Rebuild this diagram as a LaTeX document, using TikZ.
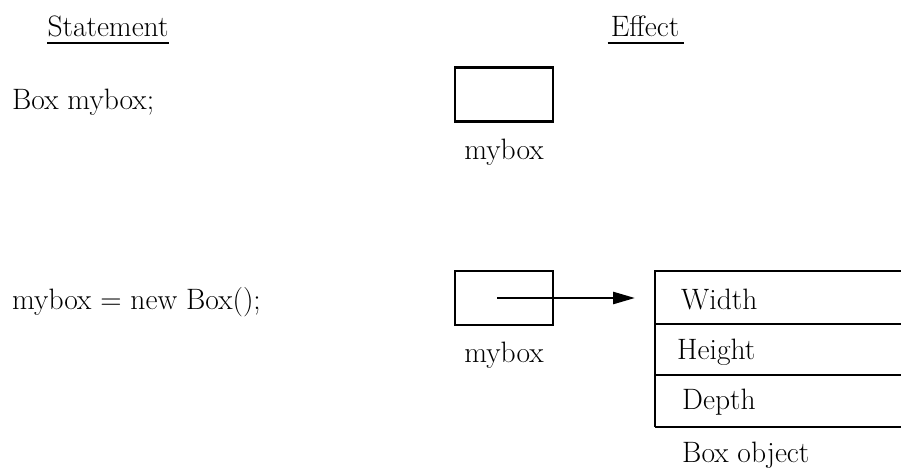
\documentclass[tikz,border=0pt]{standalone}
\usetikzlibrary{arrows.meta}
\begin{document}
\begin{tikzpicture}[x=1pt,y=-1pt,
  lbl/.style={inner sep=0pt,font=\fontsize{29.5}{34}\selectfont},
  refbox/.style={draw,line width=2.8pt,minimum width=98pt,minimum height=54pt,inner sep=0pt},
  rule/.style={line width=2.8pt},
  ptr/.style={line width=2.6pt,-{Triangle[length=22pt,width=12pt]}}]
\useasboundingbox (0,0) rectangle (901,474);
% headings
\node[lbl,anchor=base] (hs) at (108,36) {Statement};
\node[lbl,anchor=base] (he) at (645,36) {Effect};
\draw[line width=1.8pt] (hs.west|-0,43) coordinate (hs1) -- (hs.east|-0,43) coordinate (hs2);
\draw[line width=1.8pt] ([xshift=-3pt]he.west|-0,43) coordinate (he1) -- ([xshift=5pt]he.east|-0,43) coordinate (he2);
% statements
\node[lbl,anchor=west] (s1) at (12,102) {Box mybox;};
\node[lbl,anchor=west] (s2) at (12,302) {mybox = new Box();};
% reference boxes
\node[refbox] (b1) at (504,94.5) {};
\node[lbl] (n1) at (504,152) {mybox};
\node[refbox] (b2) at (504,298) {};
\node[lbl] (n2) at (504,355) {mybox};
% object table
\coordinate (t0) at (655,271);
\coordinate (t1) at (655,324);
\coordinate (t2) at (655,375);
\coordinate (t3) at (655,427);
\draw[rule] (t3) -- (t0) -- (t0-|901,0);
\draw[rule] (t1) -- (t1-|901,0);
\draw[rule] (t2) -- (t2-|901,0);
\draw[rule] (t3) -- (t3-|901,0);
\node[lbl,anchor=west] (w) at (681,299) {Width};
\node[lbl,anchor=west] (h) at (677,352) {Height};
\node[lbl,anchor=west] (d) at (682,402) {Depth};
\node[lbl,anchor=west] (bo) at (682,455) {Box object};
% pointer
\draw[ptr] ([xshift=-7pt]b2.center) -- ([xshift=-20pt]t0|-b2.center);
\end{tikzpicture}
\end{document}
